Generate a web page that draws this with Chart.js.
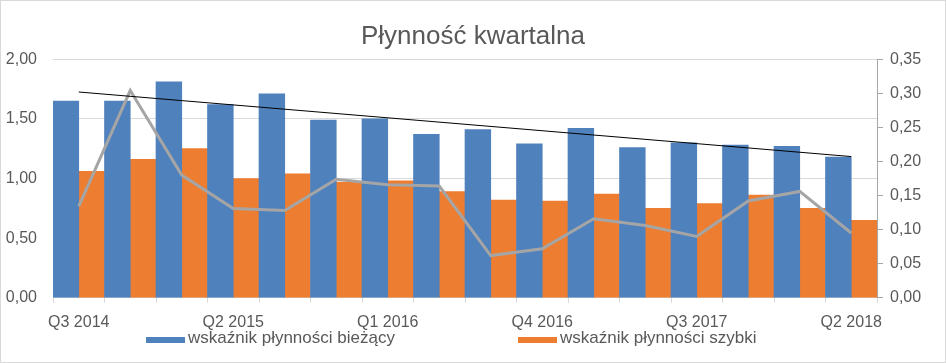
<!DOCTYPE html>
<html>
<head>
<meta charset="utf-8">
<script src="https://cdn.jsdelivr.net/npm/chart.js@4/dist/chart.umd.min.js"></script>
<style>
  html, body { margin: 0; padding: 0; background: #fff; }
  #box { position: absolute; left: 0; top: 0; width: 946px; height: 363px; box-sizing: border-box; border: 1px solid #d9d9d9; }
  #box canvas { display: block; }
  .legend { position: absolute; top: 327px; font: 17px "Liberation Sans", Arial, sans-serif; color: #595959; white-space: nowrap; }
  .legend span.sw { display: inline-block; width: 39px; height: 6px; margin-right: 3px; vertical-align: baseline; }
</style>
</head>
<body>
<div id="box">
  <canvas id="liquidityChart" width="944" height="361"></canvas>
  <div class="legend" style="left:145px"><span class="sw" style="background:#4F81BD"></span>wskaźnik płynności bieżący</div>
  <div class="legend" style="left:517px"><span class="sw" style="background:#ED7D31"></span>wskaźnik płynności szybki</div>
</div>
<script>
const quarters = ['Q3 2014', 'Q4 2014', 'Q1 2015', 'Q2 2015', 'Q3 2015', 'Q4 2015', 'Q1 2016', 'Q2 2016',
  'Q3 2016', 'Q4 2016', 'Q1 2017', 'Q2 2017', 'Q3 2017', 'Q4 2017', 'Q1 2018', 'Q2 2018'];
const currentRatio = [1.65, 1.65, 1.81, 1.62, 1.71, 1.49, 1.50, 1.37, 1.41, 1.29, 1.42, 1.26, 1.30, 1.28, 1.27, 1.18];
const quickRatio = [1.06, 1.16, 1.25, 1.00, 1.04, 0.97, 0.98, 0.89, 0.82, 0.81, 0.87, 0.75, 0.79, 0.86, 0.75, 0.65];
const cashRatio = [0.134, 0.304, 0.180, 0.131, 0.128, 0.174, 0.166, 0.164, 0.062, 0.072, 0.116, 0.106, 0.090, 0.142, 0.156, 0.095];
// linear trend of the current ratio, end points
const trendPoints = [{ x: 'Q3 2014', y: 1.725 }, { x: 'Q2 2018', y: 1.184 }];

const grey = '#595959';
const font = { family: '"Liberation Sans", Arial, sans-serif', size: 16 };
const fmt = v => Number(v).toFixed(2).replace('.', ',');

new Chart(document.getElementById('liquidityChart').getContext('2d'), {
  type: 'bar',
  data: {
    labels: quarters,
    datasets: [
      { label: 'wskaźnik płynności bieżący', data: currentRatio, backgroundColor: '#4F81BD', yAxisID: 'y', order: 2 },
      { label: 'wskaźnik płynności szybki', data: quickRatio, backgroundColor: '#ED7D31', yAxisID: 'y', order: 2 },
      { type: 'line', label: 'wskaźnik płynności gotówkowej', data: cashRatio, borderColor: '#A5A5A5', borderWidth: 3,
        pointRadius: 0, tension: 0, fill: false, yAxisID: 'y1', order: 1 },
      { type: 'line', label: 'trend', data: trendPoints, borderColor: '#000000', borderWidth: 1,
        pointRadius: 0, fill: false, yAxisID: 'y', order: 0 }
    ]
  },
  options: {
    responsive: false,
    animation: false,
    layout: { padding: { top: 0, bottom: 20, left: 0, right: 0 } },
    datasets: { bar: { categoryPercentage: 1, barPercentage: 1 } },
    plugins: {
      legend: { display: false },
      tooltip: { enabled: false },
      title: {
        display: true,
        text: 'Płynność kwartalna',
        color: grey,
        font: { family: font.family, size: 26, weight: 'normal' },
        padding: { top: 20, bottom: 7 }
      }
    },
    scales: {
      x: {
        grid: { offset: true, drawOnChartArea: false, tickLength: 5, color: '#d9d9d9' },
        border: { color: '#d9d9d9' },
        ticks: {
          autoSkip: false, maxRotation: 0, color: grey, font, padding: 10,
          callback: function (v, i) { return i % 3 === 0 ? this.getLabelForValue(v) : ''; }
        }
      },
      y: {
        position: 'left', min: 0, max: 2,
        ticks: { stepSize: 0.5, color: grey, font, padding: 16, callback: fmt },
        grid: { color: '#d9d9d9', drawTicks: false },
        border: { display: false },
        afterFit: s => { s.width = 52; }
      },
      y1: {
        position: 'right', min: 0, max: 0.35,
        ticks: { stepSize: 0.05, color: grey, font, padding: 7, callback: fmt },
        grid: { drawOnChartArea: false, tickLength: 6, color: '#a6a6a6' },
        border: { color: '#a6a6a6' },
        afterFit: s => { s.width = 68; }
      }
    }
  }
});
</script>
</body>
</html>
